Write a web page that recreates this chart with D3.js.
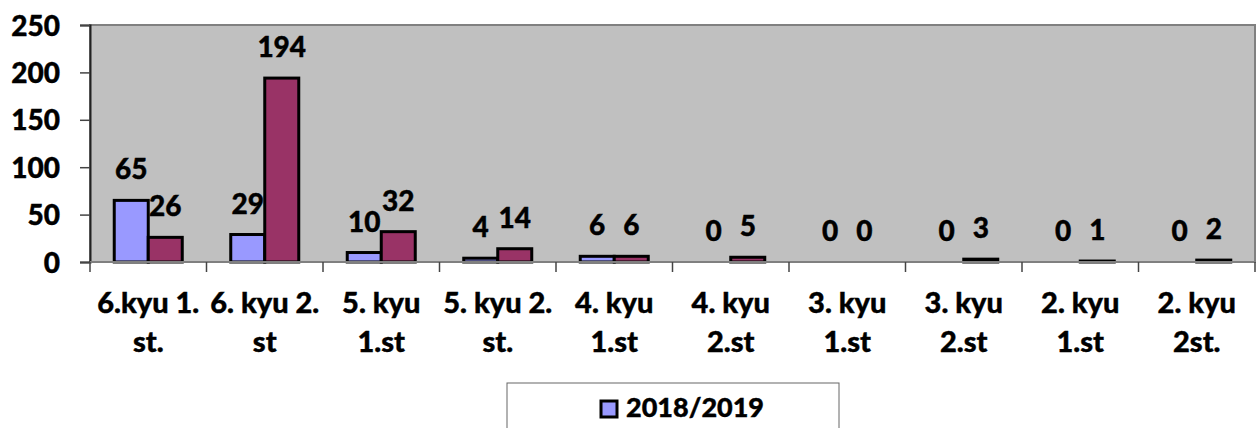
<!DOCTYPE html>
<html>
<head>
<meta charset="utf-8">
<script src="https://cdn.jsdelivr.net/npm/d3@7"></script>
<style>
  body { margin: 0; background: #fff; }
  svg { display: block; font-family: Lato, "Open Sans", sans-serif; font-weight: 900; }
  svg text { stroke: #000; stroke-width: 0.4px; }
</style>
</head>
<body>
<script>
// kategorije, dvije linije po oznaci
var categories = ["6.kyu 1.|st.", "6. kyu 2.|st", "5. kyu|1.st", "5. kyu 2.|st.", "4. kyu|1.st",
                  "4. kyu|2.st", "3. kyu|1.st", "3. kyu|2.st", "2. kyu|1.st", "2. kyu|2st."];
var seriesNames = ["2018/2019", "2019/2020"];
var values2018 = [65, 29, 10, 4, 6, 0, 0, 0, 0, 0];
var values2019 = [26, 194, 32, 14, 6, 5, 0, 3, 1, 2];
var yTicks = [0, 50, 100, 150, 200, 250];
var colors = ["#9999FF", "#993366"];

var width = 1257, height = 428;
var margin = {top: 25, right: 2, bottom: 166, left: 90};
var fsNum = 28, fsCat = 29, fsLeg = 27;

var Datos = categories.map(function (c, i) {
  return {cat: c, vals: [values2018[i], values2019[i]]};
});

var svg = d3.select("body").append("svg")
  .attr("width", width)
  .attr("height", height);

var x = d3.scaleBand()
  .domain(categories)
  .range([margin.left, width - margin.right])
  .padding(0);

var x1 = d3.scaleBand()
  .domain([0, 1])
  .range([0, x.bandwidth()])
  .paddingInner(0)
  .paddingOuter(0.713);

var y = d3.scaleLinear()
  .domain([0, 250])
  .range([height - margin.bottom, margin.top]);

// fondo gris
svg.append("rect")
  .attr("x", margin.left)
  .attr("y", margin.top)
  .attr("width", width - margin.right - margin.left)
  .attr("height", y(0) - margin.top)
  .attr("fill", "#C0C0C0")
  .attr("stroke", "#808080")
  .attr("stroke-width", 2);

// barras
var grupo = svg.append("g").selectAll("g")
  .data(Datos)
  .join("g")
    .attr("transform", function (d) { return "translate(" + x(d.cat) + ",0)"; });

grupo.selectAll("rect")
  .data(function (d) { return d.vals.map(function (v, i) { return {i: i, v: v}; }); })
  .join("rect")
    .filter(function (d) { return d.v > 0; })
    .attr("x", function (d) { return x1(d.i); })
    .attr("y", function (d) { return y(d.v); })
    .attr("width", x1.bandwidth())
    .attr("height", function (d) { return y(0) - y(d.v); })
    .attr("fill", function (d) { return colors[d.i]; })
    .attr("stroke", "#000")
    .attr("stroke-width", 3);

// etiquetas de valores
grupo.selectAll("text")
  .data(function (d) { return d.vals.map(function (v, i) { return {i: i, v: v}; }); })
  .join("text")
    .attr("x", function (d) { return x1(d.i) + x1.bandwidth() / 2; })
    .attr("y", function (d) { return y(d.v) - 21; })
    .attr("text-anchor", "middle")
    .attr("font-size", fsNum)
    .text(function (d) { return d.v; });

// eje Y
var yAxis = svg.append("g")
  .attr("transform", "translate(" + margin.left + ",0)")
  .call(d3.axisLeft(y).tickValues(yTicks).tickSize(10).tickPadding(20));
yAxis.select(".domain").attr("stroke", "#222").attr("stroke-width", 2);
yAxis.selectAll(".tick line").attr("stroke", "#444").attr("stroke-width", 1.5);
yAxis.selectAll(".tick text")
  .attr("font-size", fsNum)
  .attr("font-family", "Lato, sans-serif")
  .attr("font-weight", 900)
  .attr("fill", "#000")
  .attr("dy", "0.36em");

// eje X
var xAxis = svg.append("g")
  .attr("transform", "translate(0," + y(0) + ")");
xAxis.append("line")
  .attr("x1", margin.left).attr("x2", width - margin.right)
  .attr("stroke", "#808080").attr("stroke-width", 2);
xAxis.selectAll("line.tk")
  .data(categories.concat(["end"]))
  .join("line")
    .attr("class", "tk")
    .attr("x1", function (d, i) { return margin.left + i * x.step(); })
    .attr("x2", function (d, i) { return margin.left + i * x.step(); })
    .attr("y1", 0).attr("y2", 10)
    .attr("stroke", "#444").attr("stroke-width", 1.5);

var xl = xAxis.selectAll("text.lbl")
  .data(categories)
  .join("text")
    .attr("class", "lbl")
    .attr("text-anchor", "middle")
    .attr("font-size", fsCat)
    .attr("transform", function (d) { return "translate(" + (x(d) + x.bandwidth() / 2) + ",0)"; });
xl.selectAll("tspan")
  .data(function (d) { return d.split("|"); })
  .join("tspan")
    .attr("x", 0)
    .attr("y", function (d, i) { return 51 + i * 39; })
    .text(function (d) { return d; });

// leyenda (recortada por abajo como en el original)
var leg = svg.append("g").attr("transform", "translate(507,383)");
leg.append("rect")
  .attr("width", 332).attr("height", 60)
  .attr("fill", "#fff").attr("stroke", "#666").attr("stroke-width", 1)
  .style("stroke-width", "1px").style("stroke", "#666");
leg.append("rect")
  .attr("x", 94).attr("y", 18).attr("width", 16).attr("height", 16)
  .attr("fill", colors[0]).attr("stroke", "#000").attr("stroke-width", 3);
leg.append("text")
  .attr("x", 119).attr("y", 34)
  .attr("font-size", fsLeg)
  .text(seriesNames[0]);
</script>
</body>
</html>
